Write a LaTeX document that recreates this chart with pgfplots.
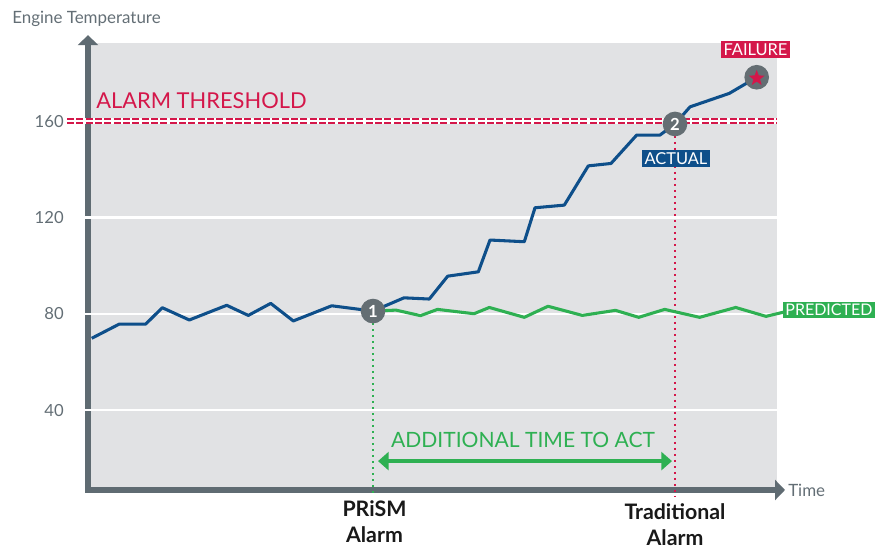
\documentclass[border=0pt]{standalone}
\usepackage{pgfplots}
\pgfplotsset{compat=1.18}
\usepackage{fontspec}
\setmainfont{Lato}
\usetikzlibrary{arrows.meta,shapes.geometric}
\definecolor{bggray}{HTML}{E1E2E4}
\definecolor{axisgray}{HTML}{5F6B72}
\definecolor{txtgray}{HTML}{636E75}
\definecolor{alarmred}{HTML}{D4174A}
\definecolor{actblue}{HTML}{0E4F8A}
\definecolor{predgreen}{HTML}{2EB052}
\definecolor{nodegray}{HTML}{646E73}
\begin{document}
\begin{tikzpicture}
\path[use as bounding box] (0,0) rectangle (661.5pt,411pt);
\begin{axis}[
  at={(66pt,43.5pt)}, anchor=south west,
  x=0.75pt, y=1.806pt,
  xmin=0, xmax=688.7, ymin=6.8, ymax=192.4,
  clip=false,
  axis x line=bottom, axis y line=left,
  axis line style={draw=none},
  axis background/.style={fill=bggray},
  xtick=\empty,
  ytick={40,80,120,160},
  major tick length=0pt,
  tick style={draw=none},
  yticklabel style={anchor=east, inner sep=0pt, xshift=-18pt, font=\fontsize{12.5}{14}\selectfont, text=txtgray},
  /pgf/number format/assume math mode=true,
]
% axis lines
\draw[axisgray, line width=4pt, -{Triangle[width=15pt,length=7.5pt]}] (axis cs:-2.7,6.8) -- (axis cs:697,6.8);
\draw[axisgray, line width=4pt, -{Triangle[width=15pt,length=7.5pt]}] (axis cs:0,6.8) -- (axis cs:0,195.7);
% grid lines
\draw[white, line width=1.7pt] (axis cs:-4,40) -- (axis cs:688.7,40);
\draw[white, line width=1.7pt] (axis cs:-4,80) -- (axis cs:688.7,80);
\draw[white, line width=1.7pt] (axis cs:-4,120) -- (axis cs:688.7,120);
% threshold
\draw[white, line width=4.2pt] (axis cs:-21,160) -- (axis cs:688.7,160);
\draw[alarmred, line width=4.2pt, dash pattern=on 5.2pt off 1.8pt] (axis cs:-21,160) -- (axis cs:688.7,160);
\draw[white, line width=0.9pt] (axis cs:-21,160) -- (axis cs:688.7,160);
% dotted verticals
\draw[predgreen, line width=2pt, dash pattern=on 1.8pt off 2.7pt] (axis cs:285,81.1) -- (axis cs:285,3.9);
\draw[alarmred, line width=2pt, dash pattern=on 1.8pt off 2.7pt] (axis cs:587,158.8) -- (axis cs:587,3.9);
% predicted
\addplot[predgreen, line width=2.3pt, line join=round] coordinates {
(285,81.1) (308,81.5) (332.5,79.2) (349.5,81.8) (386,80.0) (401.3,82.6) (436.3,78.5) (460,83.1) (494.3,79.3) (527.5,81.4) (550.7,78.5) (576.7,81.8) (611.6,78.5) (647.7,82.6) (678,78.9) (696,80.7)
};
% actual
\addplot[actblue, line width=2.3pt, line join=round] coordinates {
(3.7,69.8) (31.3,75.7) (57.7,75.7) (74.3,82.5) (101.3,77.4) (138.7,83.5) (160.3,79.3) (182.7,84.3) (205.3,77.0) (243.7,83.3) (285,81.1) (316,86.6) (341.3,86.1) (359.7,95.6) (390.3,97.4) (402,110.6) (436.3,109.9) (447,124.0) (476.3,125.1) (500.3,141.4) (523,142.4) (548.7,154.2) (572,154.2) (587,158.8) (602,165.9) (641.3,171.5) (668.7,178.2)
};
% double arrow
\draw[predgreen, line width=3.6pt, {Triangle[width=13.5pt,length=8pt]}-{Triangle[width=13.5pt,length=8pt]}] (axis cs:290,18.8) -- (axis cs:584,18.8);
\node[text=predgreen, font=\fontsize{15.8}{18}\selectfont] at (axis cs:435,27.6) {ADDITIONAL TIME TO ACT};
% markers
\node[circle, fill=nodegray, minimum size=18.5pt, inner sep=0pt, text=white, font=\bfseries\fontsize{12.5}{14}\selectfont] at (axis cs:285,81.1) {1};
\node[circle, fill=nodegray, minimum size=18.5pt, inner sep=0pt, text=white, font=\bfseries\fontsize{12.5}{14}\selectfont] at (axis cs:587,158.8) {2};
\node[circle, fill=nodegray, minimum size=18.5pt, inner sep=0pt] at (axis cs:668.7,178.2) {};
\node[star, star points=5, star point ratio=2.4, fill=alarmred, minimum size=12.5pt, inner sep=0pt] at (axis cs:668.7,177.8) {};
% labels
\node[anchor=base west, inner sep=0pt, text=alarmred, font=\fontsize{16.4}{18}\selectfont] at (axis cs:8,165.4) {ALARM THRESHOLD};
\node[fill=alarmred, text=white, inner xsep=2pt, inner ysep=1.8pt, font=\fontsize{12.3}{13}\selectfont] at (axis cs:667.5,189.7) {FAILURE};
\node[fill=actblue, text=white, inner xsep=2pt, inner ysep=1.8pt, font=\fontsize{12.3}{13}\selectfont] at (axis cs:588,144.6) {ACTUAL};
\node[fill=predgreen, text=white, inner xsep=1.6pt, inner ysep=1.8pt, anchor=west, font=\fontsize{12}{13}\selectfont] at (axis cs:695,81.6) {PREDICTED};
\node[anchor=west, inner sep=0pt, text=txtgray, font=\fontsize{12.7}{14}\selectfont] at (axis cs:-76,202.4) {Engine Temperature};
\node[anchor=west, inner sep=0pt, text=txtgray, font=\fontsize{12.7}{14}\selectfont] at (axis cs:700,6.8) {Time};
\node[anchor=north, align=center, inner sep=0pt, text=black!90, font=\bfseries\fontsize{16}{19.5}\selectfont] at (axis cs:286.5,2.4) {PRiSM\\Alarm};
\node[anchor=north, align=center, inner sep=0pt, text=black!90, font=\bfseries\fontsize{16}{19.5}\selectfont] at (axis cs:587,1.4) {Traditional\\Alarm};
\end{axis}
\end{tikzpicture}
\end{document}
